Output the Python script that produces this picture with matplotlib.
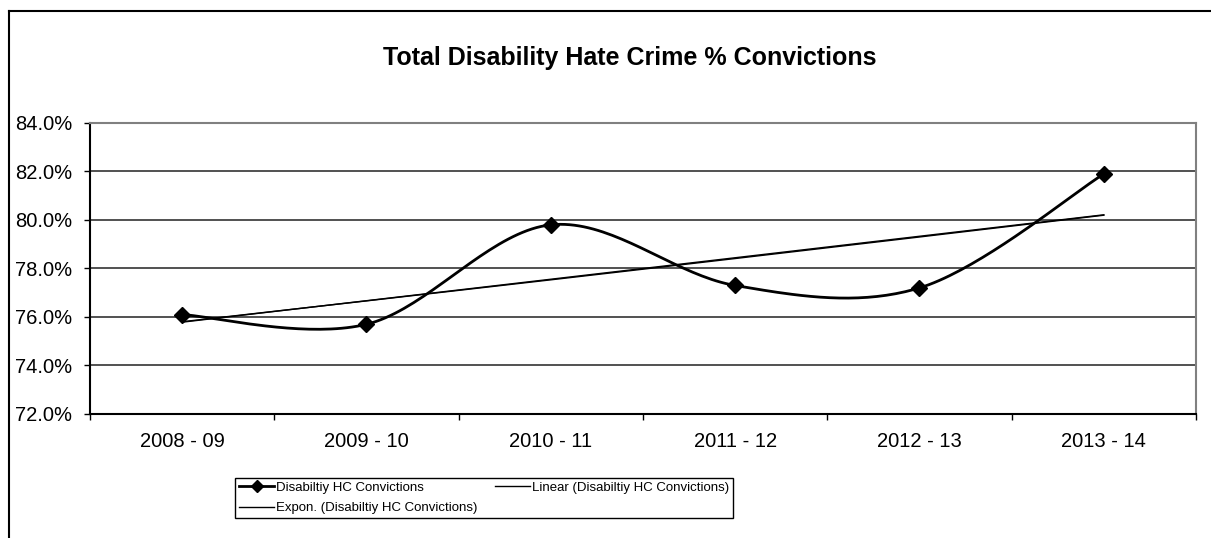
import numpy as np
import matplotlib
matplotlib.use("Agg")
import matplotlib.pyplot as plt
from matplotlib.lines import Line2D
from matplotlib.ticker import FuncFormatter, FixedLocator, NullFormatter

plt.rcParams['font.family'] = ['Liberation Sans', 'DejaVu Sans']

years = ["2008 - 09", "2009 - 10", "2010 - 11", "2011 - 12", "2012 - 13", "2013 - 14"]
convictions = [76.1, 75.7, 79.8, 77.3, 77.2, 81.9]   # % convictions


def smooth(x, y, n=40):
    # Catmull-Rom style bezier smoothing (like Excel's smoothed line)
    x = np.asarray(x, float)
    y = np.asarray(y, float)
    px = np.concatenate([[x[0]], x, [x[-1]]])
    py = np.concatenate([[y[0]], y, [y[-1]]])
    xs, ys = [], []
    t = np.linspace(0, 1, n)
    for i in range(1, len(px) - 2):
        p0 = np.array([px[i], py[i]])
        p3 = np.array([px[i + 1], py[i + 1]])
        c1 = p0 + (p3 - np.array([px[i - 1], py[i - 1]])) / 6
        c2 = p3 - (np.array([px[i + 2], py[i + 2]]) - p0) / 6
        b = ((1 - t) ** 3)[:, None] * p0 + (3 * (1 - t) ** 2 * t)[:, None] * c1 \
            + (3 * (1 - t) * t ** 2)[:, None] * c2 + (t ** 3)[:, None] * p3
        xs.extend(b[:, 0])
        ys.extend(b[:, 1])
    return np.array(xs), np.array(ys)


x = np.arange(len(years))
sx, sy = smooth(x, convictions)

# trendlines (Excel uses x = 1..n)
xn = x + 1
lin = np.polyfit(xn, convictions, 1)
expo = np.polyfit(xn, np.log(convictions), 1)
lin_y = np.polyval(lin, xn)
exp_y = np.exp(np.polyval(expo, xn))

fig = plt.figure(figsize=(12.11, 5.38), dpi=100)
ax = fig.add_axes([0.0743, 0.2305, 0.9133, 0.5409])

for v in np.arange(74, 84.1, 2):
    ax.axhline(v, color='#333333', lw=1.2, zorder=1)

l_exp, = ax.plot(x, exp_y, color='black', lw=1.0, zorder=2)
l_lin, = ax.plot(x, lin_y, color='black', lw=1.0, zorder=2)
ax.plot(sx, sy, color='black', lw=2.0, zorder=3)
ax.plot(x, convictions, linestyle='none', marker='D', ms=8, color='black', zorder=4)
l_data = Line2D([], [], color='black', lw=2.0, marker='D', ms=6)

ax.set_xlim(-0.5, 5.5)
ax.set_ylim(72, 84)
ax.set_yticks(np.arange(72, 84.1, 2))
ax.yaxis.set_major_formatter(FuncFormatter(lambda v, p: "%.1f%%" % v))
ax.xaxis.set_major_locator(FixedLocator(np.arange(-0.5, 5.6, 1)))
ax.xaxis.set_major_formatter(NullFormatter())
ax.xaxis.set_minor_locator(FixedLocator(x))
ax.set_xticklabels(years, minor=True)
ax.tick_params(axis='x', which='minor', length=0, labelsize=14.5, pad=13)
ax.tick_params(axis='x', which='major', length=4, width=1, direction='out')
ax.tick_params(axis='y', length=4, width=1, direction='out', labelsize=14.5, pad=9)

ax.spines['left'].set_color('black')
ax.spines['bottom'].set_color('black')
ax.spines['top'].set_color('#808080')
ax.spines['right'].set_color('#808080')
for s in ax.spines.values():
    s.set_linewidth(1.5)

fig.text(0.520, 0.893, "Total Disability Hate Crime % Convictions",
         ha='center', va='center', fontsize=18, fontweight='bold')

leg = fig.legend([l_data, l_exp, l_lin],
                 ["Disabiltiy HC Convictions", "Expon. (Disabiltiy HC Convictions)",
                  "Linear (Disabiltiy HC Convictions)"],
                 ncol=2, loc='center', bbox_to_anchor=(0.3997, 0.0743),
                 fancybox=False, edgecolor='black', framealpha=1,
                 prop={'size': 9.5},
                 handlelength=2.65, handletextpad=0.15, columnspacing=1.3,
                 labelspacing=0.6, borderpad=0.3, borderaxespad=0)
leg.get_frame().set_linewidth(1.0)

# outer chart frame (cropped on right and bottom)
fig.add_artist(Line2D([0.0078, 0.0078], [0, 0.9796], color='black', lw=1.5))
fig.add_artist(Line2D([0.0078, 1.0], [0.9796, 0.9796], color='black', lw=1.5))

fig.savefig("out.png", dpi=100)
